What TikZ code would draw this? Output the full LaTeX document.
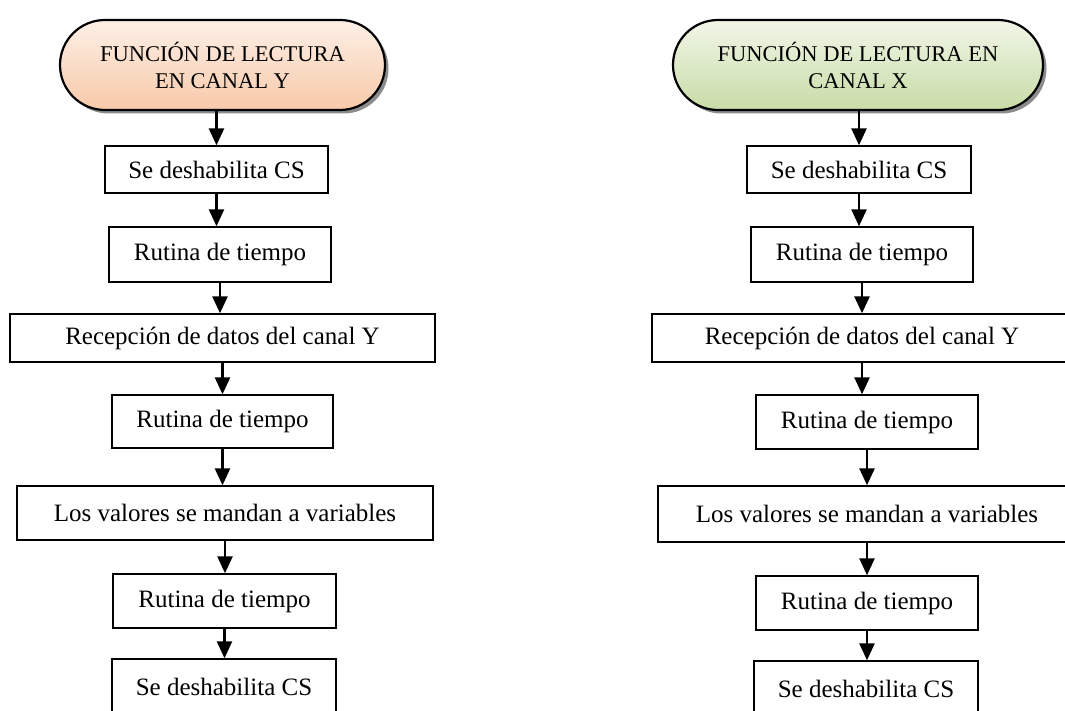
\documentclass[tikz,border=0pt]{standalone}
\usepackage{fontspec}
\setmainfont{Liberation Serif}
\usetikzlibrary{arrows.meta,shadows}
\definecolor{peachtop}{HTML}{FDF0E7}
\definecolor{peachbot}{HTML}{F8C9A9}
\definecolor{greentop}{HTML}{F1F6E8}
\definecolor{greenbot}{HTML}{C8DCA6}
\begin{document}
\begin{tikzpicture}[x=1pt,y=-1pt,
  stepbox/.style={draw=black,line width=1.4pt,fill=white,inner sep=0pt,anchor=center,
    font=\fontsize{25}{29}\selectfont},
  term/.style={draw=black,line width=2.2pt,rounded corners=45pt,inner sep=0pt,anchor=center,
    align=center,font=\fontsize{22.5}{27}\selectfont,
    drop shadow={shadow xshift=3.5pt,shadow yshift=-3.5pt,fill=black!45,opacity=1}},
  arr/.style={line width=2.6pt,-{Triangle[width=15pt,length=17pt]}}]
\clip (0,0) rectangle (1065,711);
\fill[white] (0,0) rectangle (1065,711);
% left column
\node[term,top color=peachtop,bottom color=peachbot,minimum width=325pt,minimum height=90pt]
  (L0) at (222.5,65) {FUNCIÓN DE LECTURA\\EN CANAL Y};
\node[stepbox,minimum width=223pt,minimum height=47pt] (L1) at (216.5,169.5) {Se deshabilita CS};
\node[stepbox,minimum width=222pt,minimum height=55pt] (L2) at (220,254.5) {Rutina de tiempo};
\node[stepbox,minimum width=425pt,minimum height=48pt] (L3) at (222.5,338) {Recepción de datos del canal Y};
\node[stepbox,minimum width=221pt,minimum height=53pt] (L4) at (222.5,421.5) {Rutina de tiempo};
\node[stepbox,minimum width=416pt,minimum height=54pt] (L5) at (225,513) {Los valores se mandan a variables};
\node[stepbox,minimum width=223pt,minimum height=54pt] (L6) at (224.5,601) {Rutina de tiempo};
\node[stepbox,minimum width=224pt,minimum height=56pt] (L7) at (224,687) {Se deshabilita CS};
% right column
\node[term,top color=greentop,bottom color=greenbot,minimum width=370pt,minimum height=90pt]
  (R0) at (858,65) {FUNCIÓN DE LECTURA EN\\CANAL X};
\node[stepbox,minimum width=224pt,minimum height=47pt] (R1) at (859,169.5) {Se deshabilita CS};
\node[stepbox,minimum width=222pt,minimum height=55pt] (R2) at (862,254.5) {Rutina de tiempo};
\node[stepbox,minimum width=420pt,minimum height=48pt] (R3) at (862,338) {Recepción de datos del canal Y};
\node[stepbox,minimum width=222pt,minimum height=54pt] (R4) at (867,422) {Rutina de tiempo};
\node[stepbox,minimum width=418pt,minimum height=56pt] (R5) at (867,514) {Los valores se mandan a variables};
\node[stepbox,minimum width=222pt,minimum height=54pt] (R6) at (867,603) {Rutina de tiempo};
\node[stepbox,minimum width=224pt,minimum height=56pt] (R7) at (866,689) {Se deshabilita CS};
% connectors
\draw[arr] (L0.south -| L1.north) -- (L1.north);
\draw[arr] (L1.south) -- (L1.south |- L2.north);
\draw[arr] (L2.south) -- (L2.south |- L3.north);
\draw[arr] (L3.south) -- (L3.south |- L4.north);
\draw[arr] (L4.south) -- (L4.south |- L5.north);
\draw[arr] (L5.south) -- (L5.south |- L6.north);
\draw[arr] (L6.south) -- (L6.south |- L7.north);
\draw[arr] (R0.south -| R1.north) -- (R1.north);
\draw[arr] (R1.south) -- (R1.south |- R2.north);
\draw[arr] (R2.south) -- (R2.south |- R3.north);
\draw[arr] (R3.south) -- (R3.south |- R4.north);
\draw[arr] (R4.south) -- (R4.south |- R5.north);
\draw[arr] (R5.south) -- (R5.south |- R6.north);
\draw[arr] (R6.south) -- (R6.south |- R7.north);
\end{tikzpicture}
\end{document}
